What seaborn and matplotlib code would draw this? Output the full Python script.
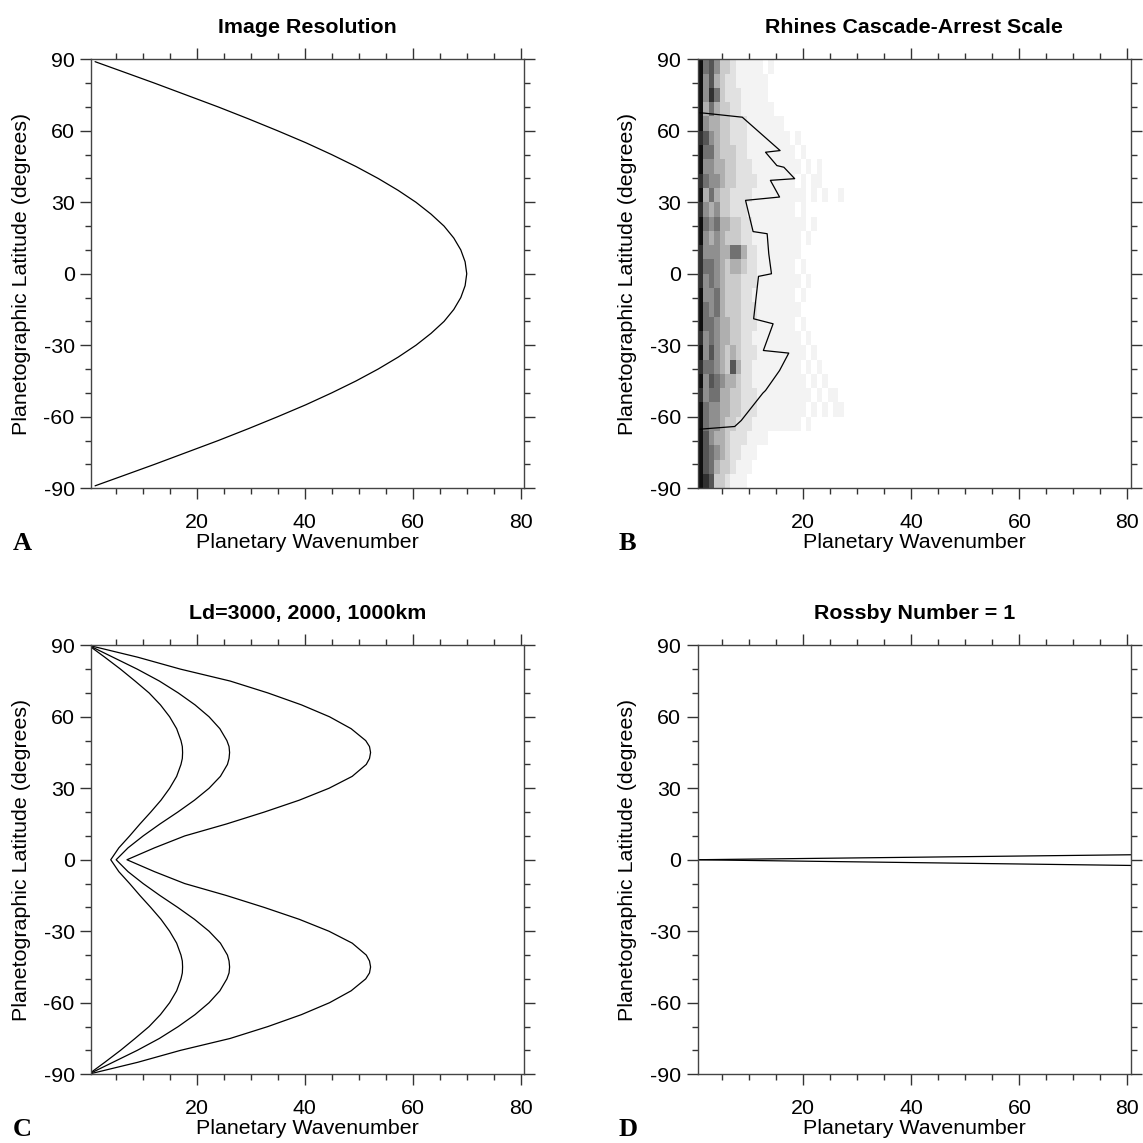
import numpy as np
import pandas as pd
import seaborn as sns
import matplotlib.pyplot as plt
from matplotlib.ticker import MultipleLocator

sns.set_style("ticks")
plt.rcParams['font.family'] = ['Liberation Sans', 'DejaVu Sans']
plt.rcParams['axes.unicode_minus'] = False
plt.rcParams['text.color'] = 'black'
plt.rcParams['axes.labelcolor'] = 'black'
plt.rcParams['xtick.color'] = 'black'
plt.rcParams['ytick.color'] = 'black'

# --- A: image resolution (wavenumber vs latitude)
lat_a = [89, 85, 80, 75, 70, 65, 60, 55, 50, 45, 40, 35, 30, 25, 20, 15, 10, 5, 0,
         -5, -10, -15, -20, -25, -30, -35, -40, -45, -50, -55, -60, -65, -70, -75, -80, -85, -89]
wn_a = [1.2, 6.1, 12.2, 18.1, 24.0, 29.6, 35.0, 40.2, 45.0, 49.5, 53.6, 57.3, 60.6, 63.4, 65.8, 67.6, 68.9, 69.7, 70.0,
        69.7, 68.9, 67.6, 65.8, 63.4, 60.6, 57.3, 53.6, 49.5, 45.0, 40.2, 35.0, 29.6, 24.0, 18.1, 12.2, 6.1, 1.2]

# --- B: rhines scale line + power histogram (rows of 6 deg, 90 -> -90; cols wavenumber 1..28)
lat_b = [67.6, 67.4, 65.7, 51.7, 51.0, 45.4, 44.7, 39.9, 39.2, 32.2, 30.8, 17.7, 16.8, 8.4, 0.0,
         -1.1, -18.9, -21.0, -32.2, -33.3, -40.6, -49.0, -50.1, -61.6, -64.1, -65.3]
wn_b = [0.5, 1.7, 8.7, 15.7, 13.0, 15.1, 16.4, 18.4, 13.9, 15.6, 9.3, 10.7, 13.3, 13.6, 14.1,
        11.7, 10.8, 14.4, 12.6, 17.3, 15.6, 13.0, 12.5, 8.5, 7.3, 0.5]
rhines_rows = [
    "9675332111110100000000000000",
    "9574322111111000000000000000",
    "9586322211111000000000000000",
    "9464332211111100000000000000",
    "9544332221111111000000000000",
    "8754332221111111101000000000",
    "9664333221111111110100000000",
    "9554433222111111111010100000",
    "8655433222211111110101100000",
    "9464332222111111111101010010",
    "8545332221111111110100000000",
    "9656443322111111111101000000",
    "9545433322111111111010000000",
    "8555446642211111111000000000",
    "8665434432211111110100000000",
    "8565433322211111111010000000",
    "9556433322111111110100000000",
    "9656433322211111111000000000",
    "9665443322211111110100000000",
    "8565443322111111111010000000",
    "9575434322211111111101000000",
    "8665437422111111111010100000",
    "9576544322111111111101010000",
    "8566443322211111111110101100",
    "9655443322211111111101010110",
    "9655433222111111111010000000",
    "9754432221111000000000000000",
    "9765432211100000000000000000",
    "9764332111000000000000000000",
    "9873321110000000000000000000",
]

# --- C: deformation radius for Ld = 3000, 2000, 1000 km
lat_c = [90, 85, 80, 75, 70, 65, 60, 55, 50, 47.5, 45, 42.5, 40, 35, 30, 25, 20, 15, 10, 5, 0,
         -5, -10, -15, -20, -25, -30, -35, -40, -42.5, -45, -47.5, -50, -55, -60, -65, -70, -75, -80, -85, -90]
wn_c3000 = [0, 3.0, 5.9, 8.6, 11.2, 13.3, 15.0, 16.3, 17.1, 17.35, 17.4, 17.35, 17.1, 16.3, 15.0, 13.4, 11.5, 9.5, 7.6, 5.6, 4.1,
            5.6, 7.6, 9.5, 11.5, 13.4, 15.0, 16.3, 17.1, 17.35, 17.4, 17.35, 17.1, 16.3, 15.0, 13.3, 11.2, 8.6, 5.9, 3.0, 0]
wn_c2000 = [0, 4.5, 9.0, 13.1, 16.6, 19.7, 22.3, 24.3, 25.6, 26.0, 26.1, 26.0, 25.7, 24.4, 22.3, 19.6, 16.5, 13.2, 10.1, 7.3, 5.1,
            7.3, 10.1, 13.2, 16.5, 19.6, 22.3, 24.4, 25.7, 26.0, 26.1, 26.0, 25.6, 24.3, 22.3, 19.7, 16.6, 13.1, 9.0, 4.5, 0]
wn_c1000 = [0, 9.1, 17.0, 26.2, 33.2, 39.4, 44.6, 48.6, 51.3, 52.0, 52.2, 52.0, 51.4, 48.8, 44.5, 39.0, 32.5, 25.5, 17.8, 12.2, 7.1,
            12.2, 17.8, 25.5, 32.5, 39.0, 44.5, 48.8, 51.4, 52.0, 52.2, 52.0, 51.3, 48.6, 44.6, 39.4, 33.2, 26.2, 17.0, 9.1, 0]

# --- D: Rossby number = 1
wn_d = [0, 81]
lat_d_north = [0, 2.1]
lat_d_south = [0, -2.4]

fig = plt.figure(figsize=(11.43, 11.43), dpi=100)
W = H = 1143.0
aw, ah = 432.7 / W, 428.9 / H
ax_a = fig.add_axes([91.3 / W, 1 - 488.2 / H, aw, ah])
ax_b = fig.add_axes([698.0 / W, 1 - 488.2 / H, aw, ah])
ax_c = fig.add_axes([91.3 / W, 1 - 1074.2 / H, aw, ah])
ax_d = fig.add_axes([698.0 / W, 1 - 1074.2 / H, aw, ah])

fs = 15.4
line_kw = dict(color='black', linewidth=0.9, sort=False, estimator=None)

sns.lineplot(x=wn_a, y=lat_a, ax=ax_a, **line_kw)

grid = np.array([[int(c) for c in row] for row in rhines_rows])
wn_edges = np.arange(0.5, grid.shape[1] + 1, 1.0)
lat_edges = np.linspace(90, -90, grid.shape[0] + 1)
ax_b.pcolormesh(wn_edges, lat_edges, grid, cmap='Greys', vmin=0, vmax=9.5, shading='flat')
sns.lineplot(x=wn_b, y=lat_b, ax=ax_b, **line_kw)

for wn in (wn_c3000, wn_c2000, wn_c1000):
    sns.lineplot(x=wn, y=lat_c, ax=ax_c, **line_kw)

sns.lineplot(x=wn_d, y=lat_d_north, ax=ax_d, **line_kw)
sns.lineplot(x=wn_d, y=lat_d_south, ax=ax_d, **line_kw)

titles = ["Image Resolution", "Rhines Cascade-Arrest Scale",
          "Ld=3000, 2000, 1000km", "Rossby Number = 1"]
letters = ["A", "B", "C", "D"]
for ax, t, letter in zip([ax_a, ax_b, ax_c, ax_d], titles, letters):
    ax.set_xlim(0.5, 80.6)
    ax.set_ylim(-90, 90)
    ax.xaxis.set_major_locator(MultipleLocator(20))
    ax.xaxis.set_minor_locator(MultipleLocator(5))
    ax.yaxis.set_major_locator(MultipleLocator(30))
    ax.yaxis.set_minor_locator(MultipleLocator(10))
    ax.tick_params(which='both', direction='out', top=True, right=True,
                   color='#333333', width=1.0, labelcolor='black')
    ax.tick_params(which='major', length=8, labelsize=fs)
    ax.tick_params(which='minor', length=4.3)
    ax.tick_params(axis='x', which='major', pad=10)
    ax.tick_params(axis='y', which='major', pad=4)
    for s in ax.spines.values():
        s.set_color('#444444')
        s.set_linewidth(1.0)
    ax.set_xlabel("Planetary Wavenumber", fontsize=fs, color='black')
    ax.set_ylabel("Planetographic Latitude (degrees)", fontsize=fs, color='black')
    ax.xaxis.set_label_coords(0.5, -0.105)
    ax.yaxis.set_label_coords(-0.14, 0.5)
    ax.set_title(t, fontsize=fs, fontweight='bold', pad=18.7, color='black')
    pos = ax.get_position()
    fig.text(pos.x0 - 79 / W, pos.y0 - 62 / H, letter, fontsize=19,
             fontweight='bold', color='black', family=['Liberation Serif', 'DejaVu Serif'])

fig.savefig("out.png", dpi=100)
